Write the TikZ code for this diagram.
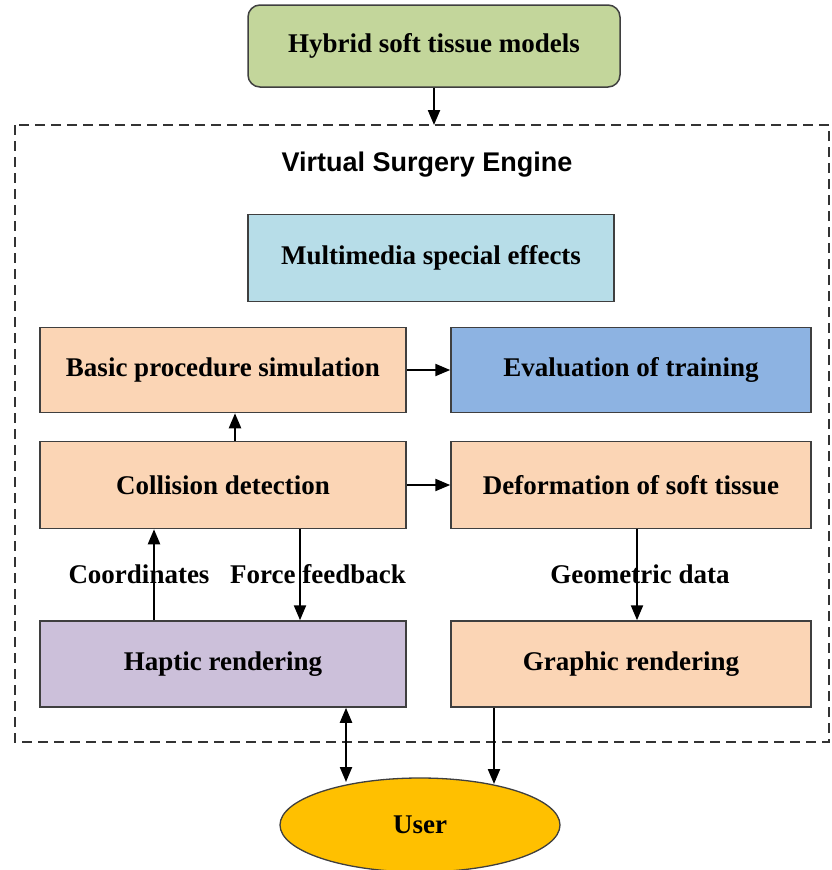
\documentclass[tikz,border=0pt]{standalone}
\usepackage{fontspec}
\setmainfont{Liberation Serif}
\setsansfont{Liberation Sans}
\usetikzlibrary{shapes.geometric,arrows.meta}
\definecolor{bordc}{HTML}{3F3F3F}
\definecolor{greenc}{HTML}{C3D69B}
\definecolor{cyanc}{HTML}{B7DDE8}
\definecolor{peachc}{HTML}{FBD5B5}
\definecolor{bluec}{HTML}{8DB3E2}
\definecolor{purplec}{HTML}{CCC0DA}
\definecolor{goldc}{HTML}{FFC000}
\tikzset{
  boxstyle/.style={draw=bordc, line width=1.5pt, inner sep=0pt, align=center,
    font=\fontsize{27}{32}\selectfont\bfseries},
  arr/.style={-{Triangle[length=15pt,width=12pt]}, line width=2.2pt, black},
  darr/.style={{Triangle[length=15pt,width=12pt]}-{Triangle[length=15pt,width=12pt]}, line width=2.2pt, black},
  lbl/.style={font=\fontsize{27}{32}\selectfont\bfseries, inner sep=0pt}
}
\begin{document}
\begin{tikzpicture}[x=1pt,y=-1pt]
\useasboundingbox (0,0) rectangle (832,870);
% dashed frame
\draw[dash pattern=on 10pt off 6pt, line width=2.4pt, black!80] (15,125) rectangle (829,742);
\node[font=\sffamily\bfseries\fontsize{27}{32}\selectfont] (vse) at (427,165) {Virtual Surgery Engine};

\node[boxstyle, fill=greenc, rounded corners=12pt, minimum width=372pt, minimum height=82pt] (hyb) at (434,46) {Hybrid soft tissue models};
\coordinate (ftop) at (434,125);
\node[boxstyle, fill=cyanc, minimum width=366pt, minimum height=87pt] (mm) at (431,258) {Multimedia special effects};
\node[boxstyle, fill=peachc, minimum width=366pt, minimum height=85pt] (basic) at (223,370) {Basic procedure simulation};
\node[boxstyle, fill=bluec, minimum width=360pt, minimum height=85pt] (eval) at (631,370) {Evaluation of training};
\node[boxstyle, fill=peachc, minimum width=366pt, minimum height=87pt] (coll) at (223,485) {Collision detection};
\node[boxstyle, fill=peachc, minimum width=360pt, minimum height=87pt] (deform) at (631,485) {Deformation of soft tissue};
\node[boxstyle, fill=purplec, minimum width=366pt, minimum height=86pt] (hap) at (223,664) {Haptic rendering};
\node[boxstyle, fill=peachc, minimum width=360pt, minimum height=86pt] (graph) at (631,664) {Graphic rendering};
\node[boxstyle, ellipse, fill=goldc, line width=1.3pt, minimum width=280pt, minimum height=94pt] (user) at (420,825) {User};

\draw[arr] (hyb.south) -- (ftop);
\draw[arr] (basic.east) -- (eval.west);
\draw[arr] (coll.east) -- (deform.west);
\coordinate (cx) at (235,0);
\draw[arr] (coll.north -| cx) -- (basic.south -| cx);
\coordinate (cox) at (154,0);
\coordinate (ffx) at (300,0);
\coordinate (gdx) at (637,0);
\draw[arr] (hap.north -| cox) -- (coll.south -| cox);
\draw[arr] (coll.south -| ffx) -- (hap.north -| ffx);
\draw[arr] (deform.south -| gdx) -- (graph.north -| gdx);
\node[lbl] (lco) at (139,574) {Coordinates};
\node[lbl] (lff) at (318,574) {Force feedback};
\node[lbl] (lgd) at (640,574) {Geometric data};
\coordinate (u1) at (346,782);
\coordinate (u2) at (494,784);
\draw[darr] (hap.south -| u1) -- (u1);
\draw[arr] (graph.south -| u2) -- (u2);
\end{tikzpicture}
\end{document}
